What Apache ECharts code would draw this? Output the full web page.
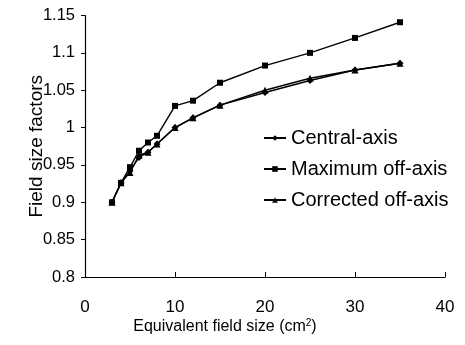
<!DOCTYPE html>
<html>
<head>
<meta charset="utf-8">
<script src="https://cdn.jsdelivr.net/npm/echarts@6/dist/echarts.min.js"></script>
<style>
  html, body { margin: 0; padding: 0; background: #fff; }
  #chart { width: 465px; height: 345px; }
</style>
</head>
<body>
<div id="chart"></div>
<script>
// field sizes (cm^2)
const fieldSizes = [3, 4, 5, 6, 7, 8, 10, 12, 15, 20, 25, 30, 35];
const centralAxis   = [0.900, 0.926, 0.942, 0.960, 0.967, 0.978, 1.000, 1.013, 1.030, 1.047, 1.063, 1.077, 1.086];
const maximumOff    = [0.900, 0.926, 0.947, 0.969, 0.980, 0.989, 1.029, 1.036, 1.060, 1.083, 1.100, 1.120, 1.141];
const correctedOff  = [0.900, 0.926, 0.940, 0.963, 0.967, 0.978, 1.000, 1.013, 1.030, 1.050, 1.066, 1.077, 1.086];

const font = 'Liberation Sans, Arial, sans-serif';
const pairs = ys => fieldSizes.map((x, i) => [x, ys[i]]);

const mkSeries = (name, data, symbol, size) => ({
  name, type: 'line', data: pairs(data),
  symbol, symbolSize: size,
  lineStyle: { color: '#000', width: 1.4 },
  itemStyle: { color: '#000' },
});

const chart = echarts.init(document.getElementById('chart'), null, { renderer: 'canvas' });
chart.setOption({
  animation: false,
  backgroundColor: '#fff',
  textStyle: { fontFamily: font },
  grid: { left: 85, right: 20, top: 15.5, bottom: 68 },
  legend: {
    left: 258, top: 123, orient: 'vertical',
    itemGap: 11, itemWidth: 22, itemHeight: 7,
    textStyle: { color: '#000', fontSize: 20, fontFamily: font },
    data: ['Central-axis', 'Maximum off-axis', 'Corrected off-axis'],
  },
  xAxis: {
    type: 'value', min: 0, max: 40, interval: 10,
    name: 'Equivalent field size (cm{sup|2})',
    nameLocation: 'middle', nameGap: 41, nameMoveOverlap: false,
    nameTextStyle: {
      color: '#000', fontSize: 16, fontFamily: font, padding: [0, 80, 0, 0],
      rich: { sup: { fontSize: 10, verticalAlign: 'top', padding: [0, 0, 8, 0], color: '#000' } },
    },
    axisLine: { lineStyle: { color: '#000', width: 1.2 } },
    axisTick: { inside: true, length: 5, lineStyle: { color: '#000' } },
    axisLabel: { color: '#000', fontSize: 17, fontFamily: font, margin: 22 },
    splitLine: { show: false },
  },
  yAxis: {
    type: 'value', min: 0.8, max: 1.15, interval: 0.05,
    name: 'Field size factors',
    nameLocation: 'middle', nameGap: 39, nameMoveOverlap: false,
    nameTextStyle: { color: '#000', fontSize: 19, fontFamily: font },
    axisLine: { show: true, lineStyle: { color: '#000', width: 1.2 } },
    axisTick: { show: true, length: 4, lineStyle: { color: '#000' } },
    axisLabel: {
      color: '#000', fontSize: 16.5, fontFamily: font, margin: 10,
      formatter: v => String(+v.toFixed(2)),
    },
    splitLine: { show: false },
  },
  series: [
    mkSeries('Central-axis', centralAxis, 'diamond', 7),
    mkSeries('Maximum off-axis', maximumOff, 'rect', 6),
    mkSeries('Corrected off-axis', correctedOff, 'triangle', 7),
  ],
});
</script>
</body>
</html>
